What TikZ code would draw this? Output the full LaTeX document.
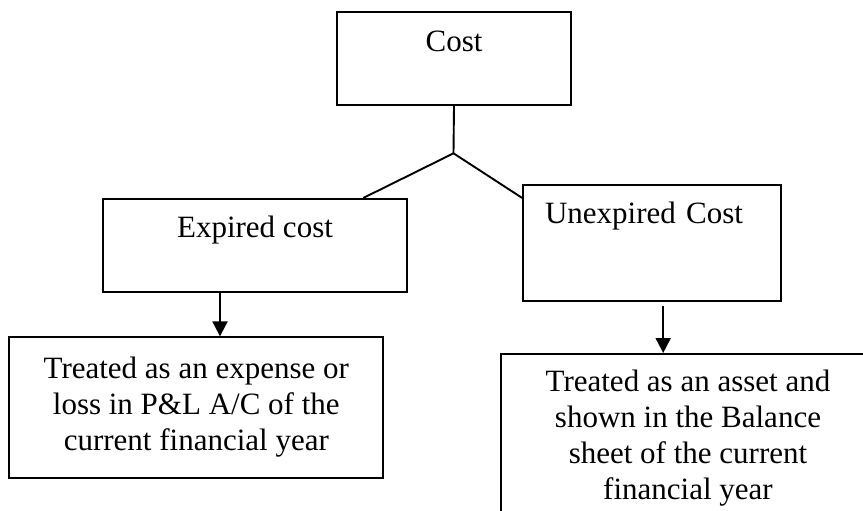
\documentclass[tikz,border=0pt]{standalone}
\usepackage{fontspec}
\setmainfont{Liberation Serif}
\usetikzlibrary{arrows.meta, positioning}

\begin{document}
\begin{tikzpicture}[
    x=1pt, y=-1pt,
    line width=1.9pt, draw=black,
    box/.style={draw, rectangle, inner sep=0pt, font=\fontsize{31}{36}\selectfont},
    arrow/.style={-{Triangle[length=15pt, width=15pt]}}
]
\clip (0,0) rectangle (863,511);

\node[box, minimum width=234pt, text height=40pt, text depth=53pt] (cost) at (454,58.5) {Cost};
\node[box, minimum width=304.6pt, text height=39pt, text depth=54.3pt] (expired) at (255,245.6) {Expired cost};
\node[box, align=left, text width=214.3pt, inner xsep=21.7pt, text height=38.6pt, text depth=77.7pt] (unexpired) at (652.2,242.9) {Unexpired Cost};
\node[box, align=center, minimum width=374pt, minimum height=140.4pt] (treatL) at (196.3,407.5)
    {Treated as an expense or\\ loss in P\&L A/C of the\\ current financial year};
\node[box, align=center, minimum width=374pt, inner ysep=16pt, anchor=north] (treatR) at (688,353)
    {Treated as an asset and\\ shown in the Balance\\ sheet of the current\\ financial year};

\coordinate (fork) at (453.5,153.3);

\draw (cost.south) -- (fork);
\draw (fork) -- ([xshift=-45pt]expired.north east);
\draw (fork) -- ([yshift=-14.3pt]unexpired.north west);
\draw[arrow] ([xshift=-35pt]expired.south) -- ([xshift=-35pt]expired.south |- treatL.north);
\draw[arrow] ([xshift=11pt,yshift=-4pt]unexpired.south) -- ([xshift=11pt]unexpired.south |- treatR.north);
\end{tikzpicture}
\end{document}
